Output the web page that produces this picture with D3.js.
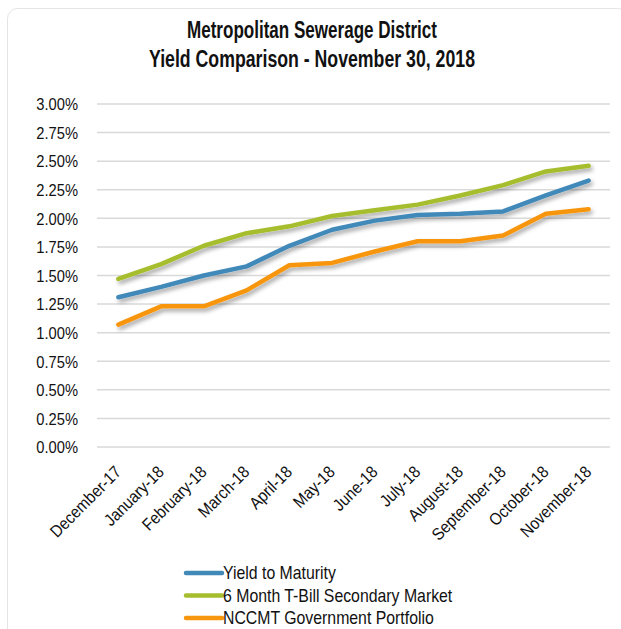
<!DOCTYPE html>
<html>
<head>
<meta charset="utf-8">
<script src="https://cdn.jsdelivr.net/npm/d3@7"></script>
<style>
  body { margin: 0; background: #fff; }
  svg text { font-family: "Liberation Sans", Arial, sans-serif; fill: #111; }
</style>
</head>
<body>
<div id="chart"></div>
<script>
const months = ['December-17', 'January-18', 'February-18', 'March-18', 'April-18', 'May-18',
  'June-18', 'July-18', 'August-18', 'September-18', 'October-18', 'November-18'];
const yieldToMaturity = [1.31, 1.40, 1.50, 1.58, 1.76, 1.90, 1.98, 2.03, 2.04, 2.06, 2.20, 2.33];
const tBill6Month = [1.47, 1.60, 1.76, 1.87, 1.93, 2.02, 2.07, 2.12, 2.20, 2.29, 2.41, 2.46];
const nccmtGov = [1.07, 1.23, 1.23, 1.37, 1.59, 1.61, 1.71, 1.80, 1.80, 1.85, 2.04, 2.08];
const yTicks = [0, 0.25, 0.5, 0.75, 1, 1.25, 1.5, 1.75, 2, 2.25, 2.5, 2.75, 3];
const seriesNames = ['Yield to Maturity', '6 Month T-Bill Secondary Market', 'NCCMT Government Portfolio'];
const seriesColors = ['#4189b8', '#a6bd2e', '#f7960f'];

const W = 621, H = 629;
const svg = d3.select('#chart').append('svg').attr('width', W).attr('height', H);

const defs = svg.append('defs');
const f = defs.append('filter').attr('id', 'shadow').attr('x', '-10%').attr('y', '-20%').attr('width', '130%').attr('height', '160%');
f.append('feDropShadow').attr('dx', 2).attr('dy', 3).attr('stdDeviation', 2)
  .attr('flood-color', '#000').attr('flood-opacity', 0.35);

// card frame
svg.append('rect').attr('x', 7.5).attr('y', 8.5).attr('width', 620).attr('height', 640)
  .attr('rx', 10).attr('fill', '#fff').attr('stroke', '#e4e4e4');

// title (narrow face is not installed, so squeeze to the reference width)
svg.append('text').attr('x', 312).attr('y', 38).attr('text-anchor', 'middle')
  .attr('font-size', 23).attr('font-weight', 'bold')
  .attr('textLength', 250).attr('lengthAdjust', 'spacingAndGlyphs')
  .text('Metropolitan Sewerage District');
svg.append('text').attr('x', 312).attr('y', 67).attr('text-anchor', 'middle')
  .attr('font-size', 23).attr('font-weight', 'bold')
  .attr('textLength', 326).attr('lengthAdjust', 'spacingAndGlyphs')
  .text('Yield Comparison - November 30, 2018');

const x = d3.scaleBand().domain(months).range([97, 610]);
const y = d3.scaleLinear().domain([0, 3]).range([447, 104]);

// gridlines
svg.append('g').selectAll('line').data(yTicks).join('line')
  .attr('x1', 97).attr('x2', 610)
  .attr('y1', d => y(d)).attr('y2', d => y(d))
  .attr('stroke', '#d9d9d9').attr('stroke-width', 1.5);

// y axis
const yAxis = svg.append('g').attr('transform', 'translate(78,0)')
  .call(d3.axisLeft(y).tickValues(yTicks).tickSize(0).tickPadding(0).tickFormat(d => d.toFixed(2) + '%'));
yAxis.select('.domain').remove();
yAxis.selectAll('.tick').each(function () {
  d3.select(this).select('text').attr('x', 0).attr('dy', '0.36em')
    .attr('font-size', 16).attr('transform', 'scale(0.92,1)')
    .style('font-family', '"Liberation Sans", Arial, sans-serif').attr('fill', '#111');
});

// x axis
const xAxis = svg.append('g').attr('transform', 'translate(0,447)')
  .call(d3.axisBottom(x).tickSize(0).tickPadding(0));
xAxis.select('.domain').remove();
xAxis.selectAll('text')
  .attr('font-size', 17).attr('text-anchor', 'end')
  .style('font-family', '"Liberation Sans", Arial, sans-serif').attr('fill', '#111')
  .attr('dy', 0).attr('y', 0)
  .attr('transform', 'translate(4,26) rotate(-45) scale(0.9,1)');

// lines
const series = [yieldToMaturity, tBill6Month, nccmtGov];
const line = d3.line().x((d, i) => x(months[i]) + x.bandwidth() / 2).y(d => y(d));
const order = [1, 0, 2];
svg.append('g').selectAll('path').data(order).join('path')
  .attr('d', k => line(series[k]))
  .attr('fill', 'none').attr('stroke', k => seriesColors[k])
  .attr('stroke-width', 4.5).attr('stroke-linejoin', 'round').attr('stroke-linecap', 'round')
  .attr('filter', 'url(#shadow)');

// legend
const lg = svg.append('g').selectAll('g').data(seriesNames).join('g')
  .attr('transform', (d, i) => `translate(186,${573 + i * 22.5})`);
lg.append('line').attr('x1', 0).attr('x2', 36).attr('stroke', (d, i) => seriesColors[i])
  .attr('stroke-width', 4.5).attr('stroke-linecap', 'round');
lg.append('text').attr('dy', '0.36em').attr('font-size', 18)
  .attr('transform', 'translate(37,0) scale(0.88,1)').text(d => d);
</script>
</body>
</html>
